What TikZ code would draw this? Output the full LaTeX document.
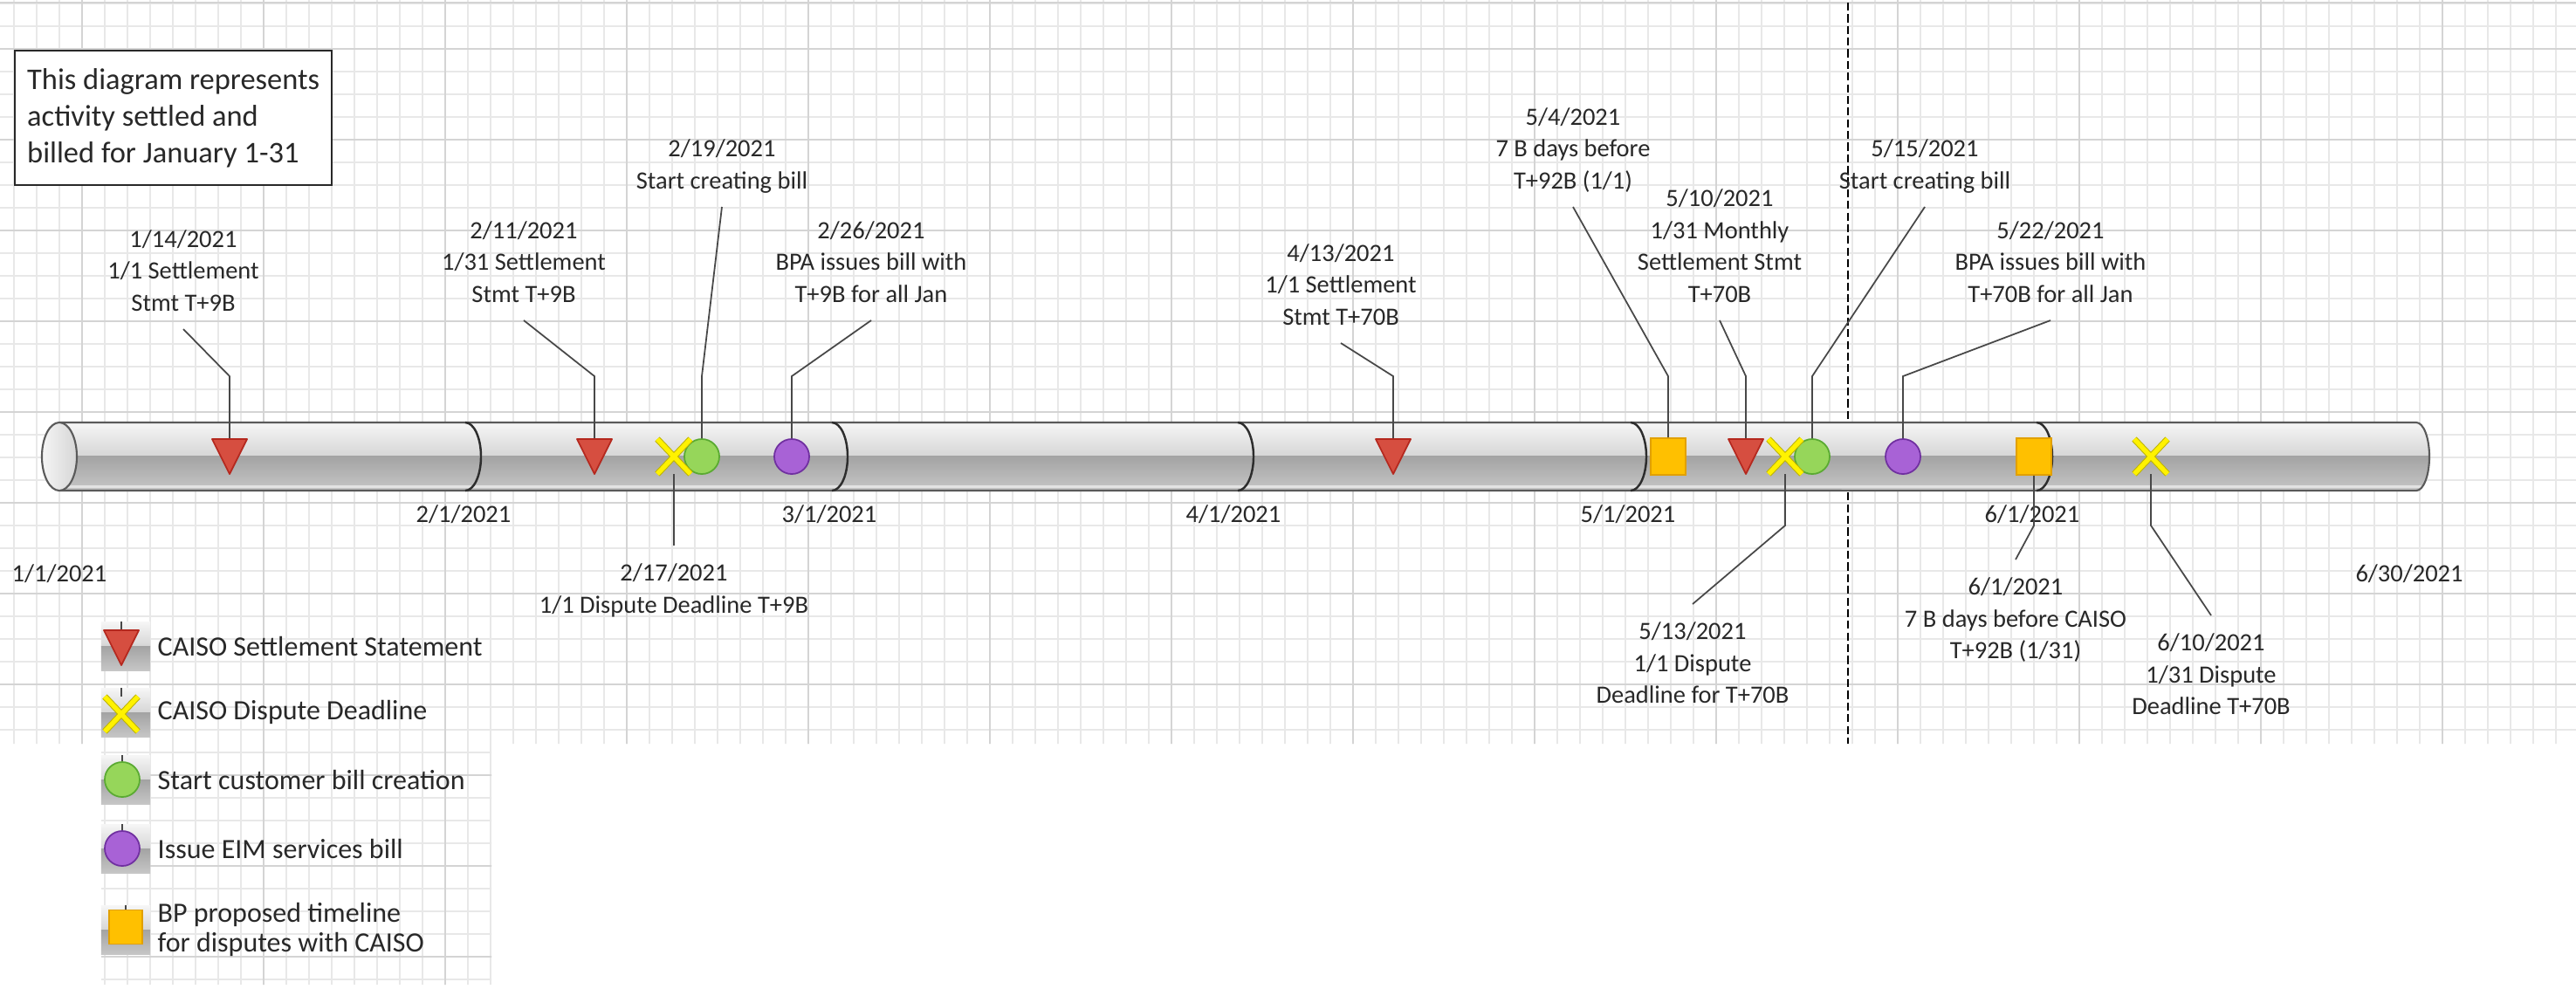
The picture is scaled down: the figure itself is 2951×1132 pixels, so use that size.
\documentclass[tikz,border=0pt]{standalone}
\usepackage{fontspec}
\setmainfont{Carlito}
\usepackage{tikz}
\usetikzlibrary{positioning}

\definecolor{ink}{RGB}{40,40,40}
\definecolor{leadgray}{RGB}{72,72,72}
\definecolor{gridminor}{RGB}{232,232,232}
\definecolor{gridmajor}{RGB}{212,212,212}
\definecolor{tubeedge}{RGB}{90,90,90}
\definecolor{monthedge}{RGB}{45,45,45}
\definecolor{tubetop}{RGB}{246,246,246}
\definecolor{tubemid}{RGB}{214,214,214}
\definecolor{tubelow}{RGB}{163,163,163}
\definecolor{tubebot}{RGB}{198,198,198}
\definecolor{tubeshine}{RGB}{226,226,226}
\definecolor{stmtred}{RGB}{214,78,64}
\definecolor{stmtredline}{RGB}{180,40,30}
\definecolor{dlyellow}{RGB}{255,242,0}
\definecolor{dlyellowline}{RGB}{190,180,0}
\definecolor{cbgreen}{RGB}{150,214,90}
\definecolor{cbgreenline}{RGB}{90,170,50}
\definecolor{ibpurple}{RGB}{168,98,214}
\definecolor{ibpurpleline}{RGB}{112,48,160}
\definecolor{bporange}{RGB}{255,192,0}
\definecolor{bporangeline}{RGB}{225,160,0}

\tikzset{
	lbl/.style		= {font=\fontsize{8.1}{10.4}\selectfont, text=ink, align=center, inner xsep=0pt, inner ysep=0.2cm, text depth=0pt},
	datelbl/.style		= {font=\fontsize{8.1}{10.4}\selectfont, text=ink, inner sep=0pt, anchor=base},
	keytext/.style		= {font=\fontsize{9.1}{9.8}\selectfont, text=ink, align=left, inner sep=0pt},
	note/.style		= {draw=ink, line width=0.6pt, fill=white, font=\fontsize{9.8}{12}\selectfont, text=ink, align=left, minimum width=3.63cm, minimum height=1.54cm},
	lead/.style		= {draw=leadgray, line width=0.5pt},
	cutline/.style		= {draw=black, line width=0.5pt, dash pattern=on 2.6pt off 1.2pt},
	minorgrid/.style	= {draw=gridminor, line width=0.35pt},
	majorgrid/.style	= {draw=gridmajor, line width=0.5pt},
	tubeline/.style		= {draw=tubeedge, line width=0.6pt},
	monthline/.style	= {draw=monthedge, line width=0.7pt},
	stmt/.style		= {rectangle, minimum width=0.4cm, minimum height=0.4cm, inner sep=0pt, outer sep=0pt},
	stmtshape/.style	= {fill=stmtred, draw=stmtredline, line width=0.5pt, line join=round},
	dline/.style		= {rectangle, minimum width=0.38cm, minimum height=0.4cm, inner sep=0pt, outer sep=0pt},
	dlineshape/.style	= {draw=dlyellowline, line width=0.3pt, double=dlyellow, double distance=1.5pt},
	cbill/.style		= {circle, fill=cbgreen, draw=cbgreenline, line width=0.5pt, minimum size=0.4cm, inner sep=0pt},
	ibill/.style		= {circle, fill=ibpurple, draw=ibpurpleline, line width=0.5pt, minimum size=0.4cm, inner sep=0pt},
	bpmark/.style		= {rectangle, fill=bporange, draw=bporangeline, line width=0.5pt, minimum width=0.4cm, minimum height=0.42cm, inner sep=0pt},
	keyicon/.style		= {rectangle, minimum width=0.56cm, minimum height=0.56cm, inner sep=0pt, outer sep=0pt},
	keytop/.style		= {top color=tubetop, bottom color=tubemid},
	keybottom/.style	= {top color=tubelow, bottom color=tubebot},
}

\begin{document}
\begin{tikzpicture}[x=0.01cm, y=-0.01cm]
	\useasboundingbox (0,0) rectangle (2951,1132);
	\fill[white] (0,0) rectangle (2951,1132);

	\begin{scope}
		\clip (0,0) rectangle (2951,852) (116,690) rectangle (563,1128);
		\foreach \gx in {16,42,...,2951} \draw[minorgrid] (\gx,0) -- (\gx,1132);
		\foreach \gy in {4,30,...,1132} \draw[minorgrid] (0,\gy) -- (2951,\gy);
		\foreach \gx in {94,302,...,2951} \draw[majorgrid] (\gx,0) -- (\gx,1132);
		\foreach \gy in {56,160,...,1132} \draw[majorgrid] (0,\gy) -- (2951,\gy);
	\end{scope}
	\draw[majorgrid, line width=0.8pt] (0,3) -- (2951,3);

	\coordinate (cutA) at (2117,3);
	\coordinate (cutB) at (2117,852);
	\draw[cutline] (cutA) -- (cutB);

	\begin{scope}
		\clip (68,484) -- (2768,484) arc[start angle=90, end angle=-90, x radius=0.15cm, y radius=0.39cm] -- (68,562) -- cycle;
		\fill[top color=tubetop, bottom color=tubemid] (60,484) rectangle (2790,522);
		\fill[top color=tubelow, bottom color=tubebot] (60,522) rectangle (2790,562);
		\fill[tubeshine] (60,556) rectangle (2790,559);
	\end{scope}
	\draw[tubeline] (68,484) -- (2768,484) arc[start angle=90, end angle=-90, x radius=0.15cm, y radius=0.39cm] -- (68,562);
	\shadedraw[left color=white!92!gray, right color=tubemid, tubeline] (68,523) ellipse[x radius=0.2cm, y radius=0.39cm];
	\foreach \bx in {533,953,1418,1868,2333}
		\draw[monthline] (\bx,484) arc[start angle=90, end angle=-90, x radius=0.18cm, y radius=0.39cm];

	\node	(note)	[note, anchor=north west]	at (16,57)	{This diagram represents\\activity settled and\\billed for January 1-31};

	\node	(d0)	[datelbl]	at (68,666)	{1/1/2021};
	\node	(d1)	[datelbl]	at (531,598)	{2/1/2021};
	\node	(d2)	[datelbl]	at (950,598)	{3/1/2021};
	\node	(d3)	[datelbl]	at (1413,598)	{4/1/2021};
	\node	(d4)	[datelbl]	at (1865,598)	{5/1/2021};
	\node	(d5)	[datelbl]	at (2328,598)	{6/1/2021};
	\node	(d6)	[datelbl]	at (2760,666)	{6/30/2021};

	\coordinate (ridge) at (0,431);
	\coordinate (floor) at (0,602);

	\node	(st1)	[stmt]		at (263,523)	{};
	\node	(st2)	[stmt]		at (681,523)	{};
	\node	(st3)	[stmt]		at (1596,523)	{};
	\node	(st4)	[stmt]		at (2000,523)	{};
	\node	(cb1)	[cbill]		at (804,523)	{};
	\node	(cb2)	[cbill]		at (2076,523)	{};
	\node	(ib1)	[ibill]		at (907,523)	{};
	\node	(ib2)	[ibill]		at (2180,523)	{};
	\node	(bp1)	[bpmark]	at (1911,523)	{};
	\node	(bp2)	[bpmark]	at (2330,523)	{};
	\node	(dl1)	[dline]		at (772,523)	{};
	\node	(dl2)	[dline]		at (2045,523)	{};
	\node	(dl3)	[dline]		at (2464,523)	{};

	\node	(L1)	[lbl, above]	at (210,377)	{1/14/2021\\1/1 Settlement\\Stmt T+9B};
	\node	(L2)	[lbl, above]	at (600,367)	{2/11/2021\\1/31 Settlement\\Stmt T+9B};
	\node	(L3)	[lbl, above]	at (827,237)	{2/19/2021\\Start creating bill};
	\node	(L4)	[lbl, above]	at (998,367)	{2/26/2021\\BPA issues bill with\\T+9B for all Jan};
	\node	(L5)	[lbl, below]	at (772,625)	{2/17/2021\\1/1 Dispute Deadline T+9B};
	\node	(L6)	[lbl, above]	at (1536,393)	{4/13/2021\\1/1 Settlement\\Stmt T+70B};
	\node	(L7)	[lbl, above]	at (1802,237)	{5/4/2021\\7 B days before\\T+92B (1/1)};
	\node	(L8)	[lbl, above]	at (1970,367)	{5/10/2021\\1/31 Monthly\\Settlement Stmt\\T+70B};
	\node	(L9)	[lbl, below]	at (1939,692)	{5/13/2021\\1/1 Dispute\\Deadline for T+70B};
	\node	(L10)	[lbl, above]	at (2205,237)	{5/15/2021\\Start creating bill};
	\node	(L11)	[lbl, above]	at (2349,367)	{5/22/2021\\BPA issues bill with\\T+70B for all Jan};
	\node	(L12)	[lbl, below]	at (2309,641)	{6/1/2021\\7 B days before CAISO\\T+92B (1/31)};
	\node	(L13)	[lbl, below]	at (2533,705)	{6/10/2021\\1/31 Dispute\\Deadline T+70B};

	\draw[lead] (L1.south) -- (st1 |- ridge) -- (st1.north);
	\draw[lead] (L2.south) -- (st2 |- ridge) -- (st2.north);
	\draw[lead] (L3.south) -- (cb1 |- ridge) -- (cb1.north);
	\draw[lead] (L4.south) -- (ib1 |- ridge) -- (ib1.north);
	\draw[lead] (dl1.south) -- (L5.north);
	\draw[lead] (L6.south) -- (st3 |- ridge) -- (st3.north);
	\draw[lead] (L7.south) -- (bp1 |- ridge) -- (bp1.north);
	\draw[lead] (L8.south) -- (st4 |- ridge) -- (st4.north);
	\draw[lead] (dl2.south) -- (dl2 |- floor) -- (L9.north);
	\draw[lead] (L10.south) -- (cb2 |- ridge) -- (cb2.north);
	\draw[lead] (L11.south) -- (ib2 |- ridge) -- (ib2.north);
	\draw[lead] (bp2.south) -- (bp2 |- floor) -- (L12.north);
	\draw[lead] (dl3.south) -- (dl3 |- floor) -- (L13.north);

	\node	(k1)	[keyicon]	at (144,740)	{};
	\node	(k2)	[keyicon]	at (144,816)	{};
	\node	(k3)	[keyicon]	at (144,893)	{};
	\node	(k4)	[keyicon]	at (144,972)	{};
	\node	(k5)	[keyicon]	at (144,1065)	{};
	\foreach \k in {1,...,5} {
		\fill[keytop] (k\k.north west) rectangle (k\k.east);
		\fill[keybottom] (k\k.west) rectangle (k\k.south east);
	}
	\node	(kst)	[stmt]		at (139,742)	{};
	\node	(kdl)	[dline]		at (139,818)	{};
	\node	(kcb)	[cbill]		at (140,893)	{};
	\node	(kib)	[ibill]		at (140,972)	{};
	\node	(kbp)	[bpmark, minimum width=0.38cm, minimum height=0.39cm]	at (144,1062)	{};
	\draw[lead] (k1.north -| kst) -- (kst.north);
	\draw[lead] (k2.north -| kdl) -- (kdl.north);
	\draw[lead] (k3.north -| kcb) -- (kcb.north);
	\draw[lead] (k4.north -| kib) -- (kib.north);
	\draw[lead] (k5.north -| kbp) -- (kbp.north);

	\node	(kt1)	[keytext, right=0.08cm of k1]	{CAISO Settlement Statement};
	\node	(kt2)	[keytext, right=0.08cm of k2]	{CAISO Dispute Deadline};
	\node	(kt3)	[keytext, right=0.08cm of k3]	{Start customer bill creation};
	\node	(kt4)	[keytext, right=0.08cm of k4]	{Issue EIM services bill};
	\node	(kt5)	[keytext, right=0.08cm of k5]	{BP proposed timeline\\for disputes with CAISO};

	\foreach \m in {st1,st2,st3,st4,kst}
		\filldraw[stmtshape] (\m.north west) -- (\m.north east) -- (\m.south) -- cycle;
	\foreach \m in {dl1,dl2,dl3,kdl}
		\draw[dlineshape] (\m.north west) -- (\m.south east) (\m.north east) -- (\m.south west);
\end{tikzpicture}
\end{document}
